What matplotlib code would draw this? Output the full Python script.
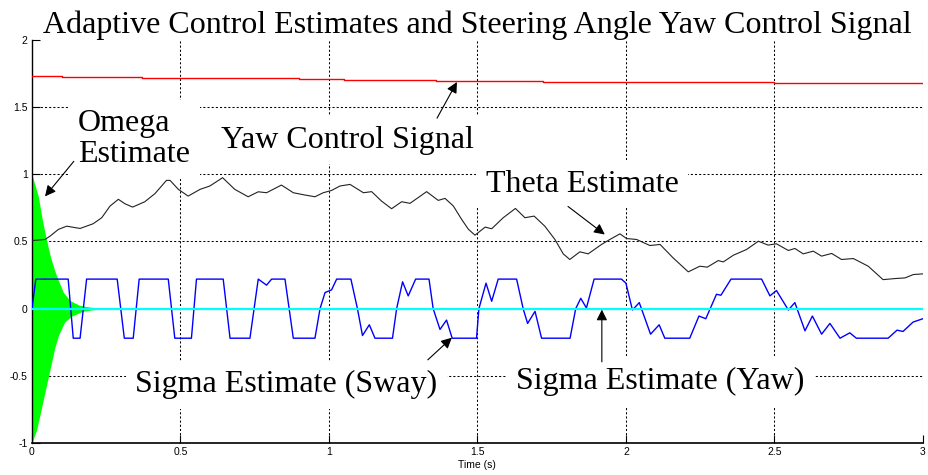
import matplotlib
matplotlib.use('Agg')
import matplotlib.pyplot as plt

matplotlib.rcParams['axes.unicode_minus'] = False

# steering angle yaw control signal (slow decay, stepwise)
t_yaw = [0, 0.1, 0.37, 0.6, 0.9, 1.05, 1.36, 1.72, 2.1, 2.5, 2.8, 3.0]
yaw_ctrl = [1.734, 1.727, 1.72, 1.715, 1.709, 1.699, 1.692, 1.687, 1.684, 1.68, 1.678, 1.677]

# omega estimate: fast oscillation, only its upper / lower envelope is kept
t_om_hi = [0, 0.01, 0.021, 0.035, 0.049, 0.063, 0.077, 0.089, 0.106, 0.128, 0.16, 0.2, 0.24]
om_hi = [1.0, 0.92, 0.84, 0.66, 0.51, 0.38, 0.28, 0.21, 0.12, 0.06, 0.025, 0.01, 0.0]
t_om_lo = [0, 0.016, 0.038, 0.052, 0.066, 0.077, 0.089, 0.11, 0.134, 0.17, 0.2, 0.24]
om_lo = [-1.0, -0.9, -0.68, -0.54, -0.4, -0.29, -0.2, -0.1, -0.055, -0.02, -0.01, 0.0]

# theta estimate
t_theta = [0, 0.044, 0.061, 0.089, 0.117, 0.162, 0.206, 0.235, 0.263, 0.291, 0.313, 0.339,
           0.38, 0.414, 0.453, 0.465, 0.493, 0.526, 0.566, 0.599, 0.642, 0.683, 0.728, 0.762,
           0.79, 0.84, 0.88, 0.919, 0.953, 0.981, 1.009, 1.037, 1.071, 1.116, 1.144, 1.177,
           1.211, 1.245, 1.273, 1.329, 1.368, 1.391, 1.419, 1.447, 1.470, 1.492, 1.526, 1.548,
           1.587, 1.628, 1.66, 1.691, 1.727, 1.761, 1.789, 1.811, 1.845, 1.873, 1.918, 1.946,
           1.98, 2.002, 2.036, 2.081, 2.115, 2.159, 2.21, 2.249, 2.274, 2.311, 2.328, 2.362,
           2.406, 2.446, 2.479, 2.507, 2.547, 2.569, 2.597, 2.631, 2.659, 2.693, 2.726, 2.766,
           2.816, 2.866, 2.906, 2.94, 2.968, 3.0]
theta = [0.507, 0.515, 0.54, 0.59, 0.614, 0.597, 0.632, 0.677, 0.764, 0.814, 0.781, 0.756,
         0.796, 0.856, 0.955, 0.955, 0.888, 0.838, 0.888, 0.913, 0.975, 0.888, 0.833, 0.87,
         0.863, 0.92, 0.863, 0.846, 0.833, 0.863, 0.88, 0.913, 0.925, 0.863, 0.871, 0.801,
         0.744, 0.796, 0.784, 0.871, 0.806, 0.821, 0.764, 0.664, 0.59, 0.547, 0.607, 0.595,
         0.677, 0.746, 0.677, 0.689, 0.614, 0.515, 0.408, 0.366, 0.423, 0.408, 0.478, 0.515,
         0.557, 0.522, 0.515, 0.47, 0.478, 0.378, 0.274, 0.316, 0.309, 0.358, 0.348, 0.398,
         0.44, 0.502, 0.473, 0.483, 0.433, 0.448, 0.408, 0.428, 0.391, 0.411, 0.366, 0.373,
         0.316, 0.216, 0.224, 0.229, 0.254, 0.259]

# sigma estimate (yaw), saturated at +-0.22
t_sig_yaw = [0, 0.013, 0.122, 0.139, 0.162, 0.184, 0.287, 0.311, 0.341, 0.361, 0.459, 0.481,
             0.537, 0.554, 0.644, 0.667, 0.734, 0.762, 0.79, 0.807, 0.852, 0.88, 0.953, 0.97,
             0.987, 1.009, 1.026, 1.074, 1.096, 1.113, 1.136, 1.155, 1.214, 1.228, 1.248, 1.267,
             1.292, 1.337, 1.351, 1.374, 1.396, 1.415, 1.497, 1.505, 1.529, 1.548, 1.570, 1.632,
             1.654, 1.669, 1.694, 1.716, 1.812, 1.831, 1.848, 1.867, 1.893, 1.985, 2.0, 2.022,
             2.045, 2.083, 2.112, 2.131, 2.215, 2.246, 2.269, 2.305, 2.32, 2.354, 2.457, 2.485,
             2.507, 2.547, 2.569, 2.603, 2.628, 2.659, 2.687, 2.721, 2.754, 2.776, 2.883, 2.913,
             2.933, 2.967, 3.0]
sig_yaw = [0.0, 0.22, 0.22, -0.22, -0.22, 0.22, 0.22, -0.22, -0.22, 0.22, 0.22, -0.22,
           -0.22, 0.22, 0.22, -0.22, -0.22, 0.22, 0.175, 0.22, 0.22, -0.22, -0.22, 0.0,
           0.12, 0.14, 0.22, 0.22, 0.0, -0.2, -0.12, -0.22, -0.22, 0.0, 0.2, 0.095,
           0.22, 0.22, 0.0, -0.155, -0.085, -0.22, -0.22, 0.0, 0.19, 0.055, 0.22, 0.22,
           0.0, -0.11, -0.02, -0.22, -0.22, 0.0, 0.077, 0.005, 0.22, 0.22, 0.19, -0.01,
           0.045, -0.19, -0.12, -0.22, -0.22, -0.055, -0.075, 0.107, 0.1, 0.22, 0.22, 0.095,
           0.135, -0.01, 0.045, -0.165, -0.055, -0.19, -0.11, -0.22, -0.18, -0.22, -0.22, -0.16,
           -0.17, -0.1, -0.075]

# sigma estimate (sway) stays at zero
t_sig_sway = [0, 3.0]
sig_sway = [0.0, 0.0]

x_ticks = [0, 0.5, 1, 1.5, 2, 2.5, 3]
y_ticks = [-1, -0.5, 0, 0.5, 1, 1.5, 2]

fig = plt.figure(figsize=(9.29, 4.75), dpi=100)
ax = fig.add_axes([0.0344, 0.0674, 0.959, 0.8484])

# dotted grid, drawn by hand so the top edge stays clean
for x in x_ticks[1:]:
    ax.axvline(x, color='k', lw=0.75, linestyle=(0, (2, 2)), zorder=0.5)
for y in y_ticks[1:-1]:
    ax.axhline(y, color='k', lw=0.75, linestyle=(0, (2, 2)), zorder=0.5)

ax.fill_between(t_om_hi, om_hi, 0, color='#00ff00', lw=0, zorder=2)
ax.fill_between(t_om_lo, om_lo, 0, color='#00ff00', lw=0, zorder=2)
ax.plot(t_theta, theta, color='#222222', lw=0.8, zorder=3)
ax.plot(t_yaw, yaw_ctrl, color='#ff0000', lw=1.0, drawstyle='steps-post', zorder=3)
ax.plot(t_sig_yaw, sig_yaw, color='#0000ff', lw=1.0, zorder=3)
ax.plot(t_sig_sway, sig_sway, color='#00ffff', lw=1.6, zorder=4)

ax.set_xlim(0, 3)
ax.set_ylim(-1, 2)
ax.set_xticks(x_ticks)
ax.set_yticks(y_ticks)
ax.set_xticklabels(['0', '0.5', '1', '1.5', '2', '2.5', '3'])
ax.set_yticklabels(['-1', '-0.5', '0', '0.5', '1', '1.5', '2'])
ax.tick_params(direction='in', length=6, width=0.8, labelsize=7.5, pad=3)
for lab in ax.get_xticklabels() + ax.get_yticklabels():
    lab.set_fontfamily('Liberation Sans')
ax.spines['top'].set_visible(False)
ax.spines['right'].set_visible(False)
ax.spines['left'].set_linewidth(1.0)
ax.spines['bottom'].set_linewidth(1.2)
ax.set_xlabel('Time (s)', fontsize=7.5, family='Liberation Sans', labelpad=2)

ax.set_title('Adaptive Control Estimates and Steering Angle Yaw Control Signal',
             fontsize=23, family='Liberation Serif', pad=4)

# labels with white boxes that break the grid, arrows pointing at each trace
box = dict(boxstyle='square,pad=0.3', fc='white', ec='none')
arrow = dict(arrowstyle='-|>', color='black', lw=0.8, mutation_scale=16, shrinkA=0, shrinkB=0)
txt = dict(fontsize=23, family='Liberation Serif', bbox=box, zorder=1)

ax.text(0.155, 1.261, 'Omega\nEstimate', ha='left', va='center', linespacing=1.1, **txt)
ax.annotate('', xy=(0.044, 0.836), xytext=(0.141, 1.097), arrowprops=arrow, zorder=1)

ax.text(1.061, 1.254, 'Yaw Control Signal', ha='center', va='center', **txt)
ax.annotate('', xy=(1.431, 1.687), xytext=(1.364, 1.418), arrowprops=arrow, zorder=1)

ax.text(1.852, 0.925, 'Theta Estimate', ha='center', va='center', **txt)
ax.annotate('', xy=(1.929, 0.552), xytext=(1.805, 0.761), arrowprops=arrow, zorder=1)

ax.text(0.857, -0.567, 'Sigma Estimate (Sway)', ha='center', va='center', **txt)
ax.annotate('', xy=(1.414, -0.216), xytext=(1.333, -0.381), arrowprops=arrow, zorder=1)

ax.text(2.117, -0.545, 'Sigma Estimate (Yaw)', ha='center', va='center', **txt)
ax.annotate('', xy=(1.919, -0.007), xytext=(1.919, -0.396), arrowprops=arrow, zorder=1)

fig.savefig('out.png', dpi=100)
